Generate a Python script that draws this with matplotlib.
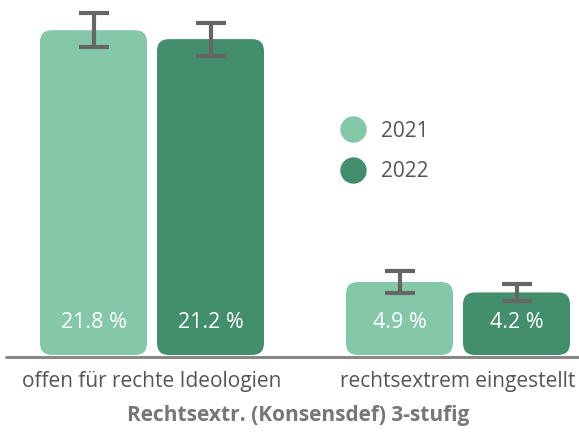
import numpy as np
import matplotlib
matplotlib.use("Agg")
import matplotlib.pyplot as plt
from matplotlib.patches import FancyBboxPatch
from matplotlib.lines import Line2D

plt.rcParams['font.family'] = ['Open Sans', 'DejaVu Sans']

categories = ['offen für rechte Ideologien', 'rechtsextrem eingestellt']
years = ['2021', '2022']
values = {'2021': [21.8, 4.9], '2022': [21.2, 4.2]}
errors = {'2021': [1.15, 0.77], '2022': [1.1, 0.57]}
colors = {'2021': '#85c7a9', '2022': '#438f6d'}
title = 'Rechtsextr. (Konsensdef) 3-stufig'

W, H = 579, 433
fig = plt.figure(figsize=(W / 100, H / 100), dpi=100)
ax = fig.add_axes([0, 0, 1, 1])

# pixel layout: group centres 152 and 458, baseline at y=355, 14.9 px per %
px_x = 306.0
px_y = 14.9
x0 = -152 / px_x
ax.set_xlim(x0, x0 + W / px_x)
ax.set_ylim(-(H - 355) / px_y, 355 / px_y)
ax.axis('off')

width = 107 / px_x
offset = (107 + 10) / 2 / px_x
x = np.arange(len(categories))
aspect = px_x / px_y
r = 12 / px_x

for i, yr in enumerate(years):
    pos = x + (i - 0.5) * 2 * offset
    bars = ax.bar(pos, values[yr], width=width, color=colors[yr])
    for b in bars:
        b.set_visible(False)
        patch = FancyBboxPatch((b.get_x(), b.get_y()), b.get_width(), b.get_height(),
                               boxstyle=f'round,pad=0,rounding_size={r}',
                               mutation_aspect=aspect, fc=colors[yr], ec='none')
        ax.add_patch(patch)
    ax.errorbar(pos, values[yr], yerr=errors[yr], fmt='none', ecolor='#666666',
                elinewidth=3, capsize=10.8, capthick=3, zorder=5)
    for p, v in zip(pos, values[yr]):
        ax.text(p, 33 / px_y, f'{v} %', ha='center', va='center', color='white',
                fontsize=15.5)

ax.plot([x0 + 5 / px_x, x0 + W / px_x], [-2 / px_y, -2 / px_y], color='#888888',
        lw=2.2, solid_capstyle='butt', clip_on=False)

for xi, c in zip(x, categories):
    ax.text(xi, -26 / px_y, c, ha='center', va='center', color='#555555', fontsize=15)

ax.text(x0 + 298 / px_x, -61 / px_y, title, ha='center', va='center', color='#777777',
        fontsize=15, fontweight='bold')

handles = [Line2D([], [], marker='o', ls='none', markersize=19, markerfacecolor=colors[y],
                  markeredgecolor='none') for y in years]
ax.legend(handles, years, loc='center left', bbox_to_anchor=(324 / W, 1 - 151.5 / H),
          frameon=False, fontsize=15, labelcolor='#555555', handletextpad=0.35,
          labelspacing=0.95, borderaxespad=0)

fig.savefig('out.png', dpi=100)
